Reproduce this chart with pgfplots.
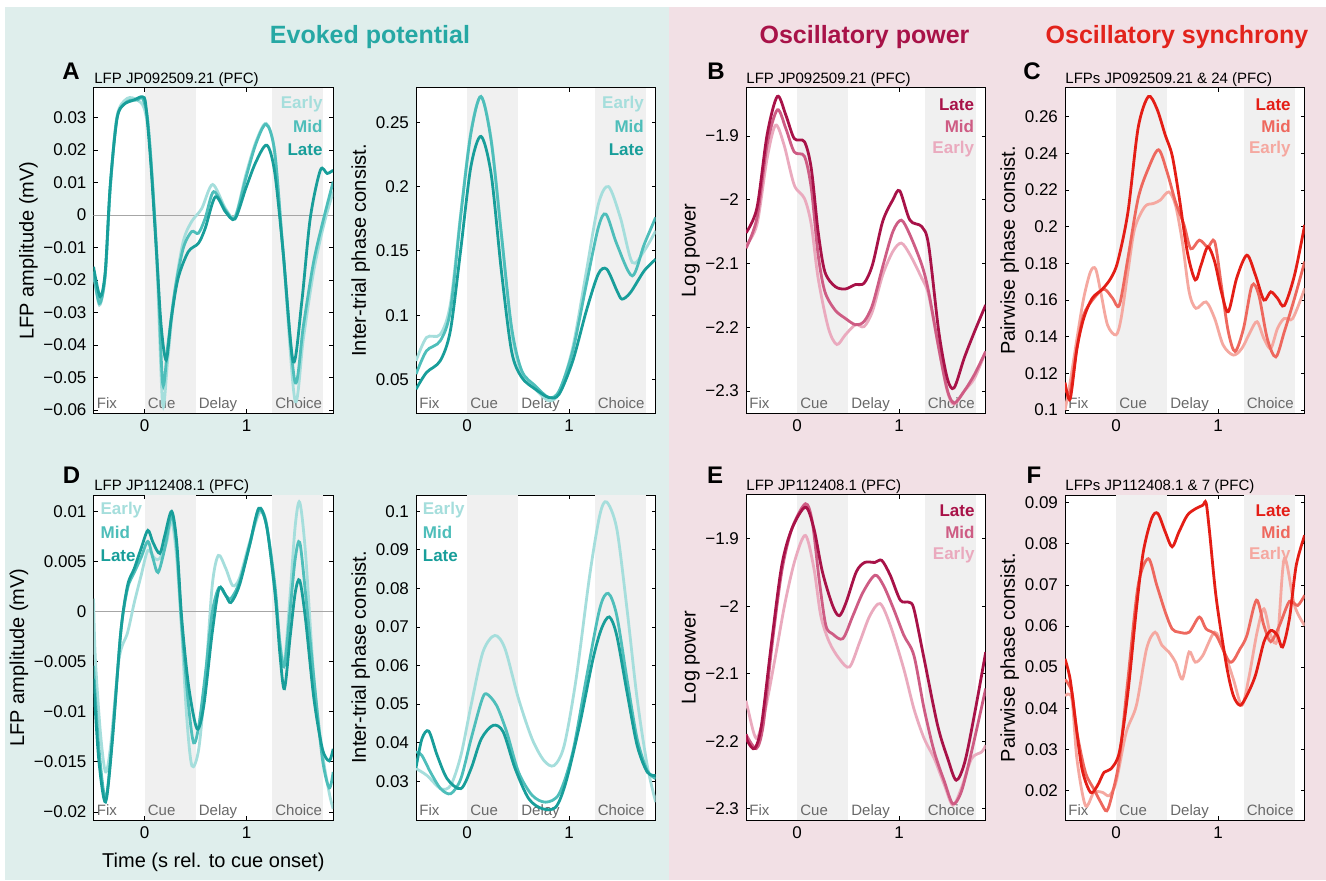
\documentclass[border=0pt]{standalone}
\usepackage{fontspec}
\setmainfont{Liberation Sans}
\usepackage{pgfplots}
\pgfplotsset{compat=1.18}

\definecolor{bgteal}{RGB}{223,238,236}
\definecolor{bgpink}{RGB}{242,224,229}
\definecolor{shadegray}{RGB}{240,240,240}
\definecolor{periodgray}{RGB}{105,105,105}
\definecolor{tealL}{RGB}{24,158,154}
\definecolor{tealM}{RGB}{78,190,186}
\definecolor{tealE}{RGB}{165,222,220}
\definecolor{powL}{RGB}{168,18,72}
\definecolor{powM}{RGB}{206,92,132}
\definecolor{powE}{RGB}{234,170,190}
\definecolor{synL}{RGB}{228,30,22}
\definecolor{synM}{RGB}{238,104,94}
\definecolor{synE}{RGB}{245,168,160}
\definecolor{titteal}{RGB}{38,168,164}
\definecolor{titpow}{RGB}{168,18,72}
\definecolor{titsyn}{RGB}{226,35,28}

\pgfplotsset{
  panel/.style={
    scale only axis, width=117.5pt, height=162.5pt, anchor=south west,
    xmin=-0.5, xmax=1.85, xtick={0,1}, xticklabels={0,1},
    scaled y ticks=false,
    tick align=inside, major tick length=2pt,
    axis background/.style={fill=white},
    axis line style={line width=0.5pt},
    every tick/.style={black, line width=0.4pt},
    tick label style={font=\fontsize{8.5}{10}\selectfont},
    label style={font=\fontsize{10}{12}\selectfont},
    ylabel shift=-4pt,
    every axis plot/.append style={line width=1.4pt, smooth},
  },
}
\newcommand{\periods}{%
  \fill[shadegray] ({axis cs:0,0}|-{rel axis cs:0,0}) rectangle ({axis cs:0.5,0}|-{rel axis cs:0,1});
  \fill[shadegray] ({axis cs:1.25,0}|-{rel axis cs:0,0}) rectangle ({axis cs:1.75,0}|-{rel axis cs:0,1});
  \node[anchor=base west, text=periodgray, font=\fontsize{7.5}{9}\selectfont, inner sep=1.5pt, yshift=2.5pt] at ({axis cs:-0.5,0}|-{rel axis cs:0,0}) {Fix};
  \node[anchor=base west, text=periodgray, font=\fontsize{7.5}{9}\selectfont, inner sep=1.5pt, yshift=2.5pt] at ({axis cs:0,0}|-{rel axis cs:0,0}) {Cue};
  \node[anchor=base west, text=periodgray, font=\fontsize{7.5}{9}\selectfont, inner sep=1.5pt, yshift=2.5pt] at ({axis cs:0.5,0}|-{rel axis cs:0,0}) {Delay};
  \node[anchor=base west, text=periodgray, font=\fontsize{7.5}{9}\selectfont, inner sep=1.5pt, yshift=2.5pt] at ({axis cs:1.25,0}|-{rel axis cs:0,0}) {Choice};
}
\newcommand{\zeroline}{%
  \draw[gray!70, line width=0.4pt] ({rel axis cs:0,0}|-{axis cs:0,0}) -- ({rel axis cs:1,0}|-{axis cs:0,0});
}
\tikzset{leg/.style={font=\fontsize{8.5}{10}\bfseries, inner sep=0pt}}

\begin{document}
\begin{tikzpicture}
\useasboundingbox (0,0) rectangle (663pt,440pt);
\fill[bgteal] (2.5pt,0) rectangle (334.5pt,436.5pt);
\fill[bgpink] (334.5pt,0) rectangle (663pt,436.5pt);

% ---------- A left
\begin{axis}[panel, at={(46.75pt,233.5pt)}, ymin=-0.0609, ymax=0.0391,
  ytick={-0.06,-0.05,-0.04,-0.03,-0.02,-0.01,0,0.01,0.02,0.03},
  yticklabels={−0.06,−0.05,−0.04,−0.03,−0.02,−0.01,0,0.01,0.02,0.03},
  ylabel={LFP amplitude (mV)}]
\periods
\zeroline
\addplot[tealE] coordinates {(-0.5,-0.0174)(-0.442,-0.0277)(-0.385,-0.0185)(-0.336,0.0082)(-0.269,0.0305)(-0.169,0.0359)(-0.07,0.0354)(-0.003,0.0328)(0.047,0.0236)(0.096,0.001)(0.13,-0.0215)(0.179,-0.0585)(0.229,-0.0441)(0.296,-0.0236)(0.379,-0.0082)(0.462,-0.002)(0.561,0.002)(0.668,0.0094)(0.794,0.002)(0.887,-0.0005)(0.993,0.0123)(1.093,0.0226)(1.193,0.0282)(1.276,0.0195)(1.359,-0.0113)(1.475,-0.057)(1.558,-0.0379)(1.658,-0.0174)(1.757,-0.0031)(1.85,0.0072)};
\addplot[tealM] coordinates {(-0.5,-0.0174)(-0.442,-0.0272)(-0.385,-0.0185)(-0.336,0.0082)(-0.269,0.030)(-0.169,0.0349)(-0.07,0.0354)(-0.02,0.0359)(0.03,0.0297)(0.08,0.0092)(0.13,-0.0174)(0.179,-0.052)(0.229,-0.040)(0.296,-0.0236)(0.379,-0.0103)(0.462,-0.0051)(0.528,-0.0056)(0.595,-0.001)(0.678,0.0072)(0.794,0.0015)(0.887,-0.0008)(0.993,0.0113)(1.093,0.022)(1.193,0.0279)(1.276,0.0195)(1.359,-0.0113)(1.475,-0.0513)(1.558,-0.034)(1.658,-0.0144)(1.757,-0.001)(1.85,0.0103)};
\addplot[tealL] coordinates {(-0.5,-0.0159)(-0.435,-0.0251)(-0.385,-0.0174)(-0.336,0.0092)(-0.269,0.0297)(-0.203,0.034)(-0.103,0.0354)(-0.02,0.0364)(0.013,0.0338)(0.063,0.0154)(0.113,-0.0092)(0.163,-0.034)(0.213,-0.0446)(0.262,-0.032)(0.329,-0.0195)(0.429,-0.0113)(0.528,-0.0087)(0.595,-0.0041)(0.694,0.0056)(0.794,0.001)(0.887,-0.0012)(0.993,0.0082)(1.093,0.0164)(1.199,0.0215)(1.276,0.0133)(1.359,-0.0113)(1.458,-0.0451)(1.542,-0.0267)(1.625,-0.001)(1.724,0.0138)(1.791,0.0128)(1.85,0.0138)};
\node[leg, anchor=east, text=tealE] at (rel axis cs:0.957,0.95) {Early};
\node[leg, anchor=east, text=tealM] at (rel axis cs:0.957,0.881) {Mid};
\node[leg, anchor=east, text=tealL] at (rel axis cs:0.957,0.811) {Late};
\end{axis}

% ---------- A right
\begin{axis}[panel, at={(208pt,233.5pt)}, ymin=0.024, ymax=0.2766,
  ytick={0.05,0.1,0.15,0.2,0.25}, yticklabels={0.05,0.1,0.15,0.2,0.25},
  ylabel={Inter-trial phase consist.}]
\periods
\addplot[tealE] coordinates {(-0.5,0.0645)(-0.397,0.0827)(-0.263,0.085)(-0.163,0.1086)(-0.063,0.178)(0.037,0.242)(0.137,0.270)(0.237,0.2368)(0.337,0.163)(0.437,0.0879)(0.537,0.0542)(0.67,0.0425)(0.803,0.0335)(0.903,0.040)(1.037,0.075)(1.17,0.134)(1.287,0.186)(1.387,0.2)(1.503,0.176)(1.62,0.141)(1.737,0.15)(1.85,0.1656)};
\addplot[tealM] coordinates {(-0.5,0.0542)(-0.397,0.0723)(-0.263,0.080)(-0.163,0.1034)(-0.063,0.176)(0.037,0.2407)(0.137,0.270)(0.237,0.2355)(0.337,0.163)(0.437,0.0905)(0.537,0.0568)(0.67,0.0451)(0.803,0.036)(0.903,0.0412)(1.037,0.0723)(1.17,0.124)(1.287,0.168)(1.363,0.1785)(1.47,0.155)(1.62,0.1306)(1.737,0.155)(1.85,0.176)};
\addplot[tealL] coordinates {(-0.5,0.0425)(-0.397,0.0555)(-0.263,0.0645)(-0.163,0.088)(-0.063,0.150)(0.037,0.215)(0.137,0.239)(0.237,0.2096)(0.337,0.1345)(0.437,0.072)(0.537,0.0516)(0.67,0.0425)(0.803,0.036)(0.903,0.0386)(1.037,0.0645)(1.17,0.1034)(1.287,0.132)(1.37,0.1358)(1.47,0.119)(1.52,0.1125)(1.603,0.1177)(1.737,0.1345)(1.85,0.1435)};
\node[leg, anchor=east, text=tealE] at (rel axis cs:0.952,0.95) {Early};
\node[leg, anchor=east, text=tealM] at (rel axis cs:0.952,0.881) {Mid};
\node[leg, anchor=east, text=tealL] at (rel axis cs:0.952,0.811) {Late};
\end{axis}

% ---------- B
\begin{axis}[panel, at={(373pt,233.5pt)}, ymin=-2.3345, ymax=-1.8247,
  ytick={-2.3,-2.2,-2.1,-2,-1.9}, yticklabels={−2.3,−2.2,−2.1,−2,−1.9},
  ylabel={Log power}]
\periods
\addplot[powE] coordinates {(-0.5,-2.071)(-0.393,-2.039)(-0.293,-1.935)(-0.21,-1.883)(-0.127,-1.914)(-0.027,-1.977)(0.073,-1.998)(0.14,-2.039)(0.207,-2.123)(0.307,-2.201)(0.39,-2.227)(0.473,-2.212)(0.573,-2.196)(0.657,-2.199)(0.74,-2.175)(0.84,-2.118)(0.94,-2.081)(1.023,-2.068)(1.107,-2.086)(1.223,-2.123)(1.29,-2.149)(1.39,-2.233)(1.473,-2.3)(1.54,-2.321)(1.64,-2.3)(1.74,-2.28)(1.85,-2.238)};
\addplot[powM] coordinates {(-0.5,-2.076)(-0.393,-2.029)(-0.293,-1.914)(-0.193,-1.859)(-0.11,-1.888)(-0.027,-1.925)(0.073,-1.932)(0.14,-1.982)(0.207,-2.086)(0.273,-2.144)(0.373,-2.173)(0.473,-2.186)(0.573,-2.196)(0.657,-2.191)(0.74,-2.165)(0.84,-2.105)(0.94,-2.05)(1.023,-2.032)(1.107,-2.055)(1.223,-2.102)(1.29,-2.144)(1.39,-2.233)(1.473,-2.298)(1.54,-2.319)(1.64,-2.3)(1.74,-2.274)(1.85,-2.238)};
\addplot[powL] coordinates {(-0.5,-2.052)(-0.393,-2.013)(-0.293,-1.898)(-0.193,-1.838)(-0.11,-1.867)(-0.027,-1.904)(0.073,-1.909)(0.14,-1.951)(0.207,-2.05)(0.273,-2.113)(0.373,-2.136)(0.473,-2.14)(0.573,-2.133)(0.657,-2.131)(0.74,-2.102)(0.84,-2.034)(0.94,-2.0)(1.007,-1.986)(1.107,-2.032)(1.223,-2.042)(1.29,-2.071)(1.39,-2.207)(1.473,-2.28)(1.54,-2.295)(1.64,-2.248)(1.74,-2.207)(1.85,-2.165)};
\node[leg, anchor=east, text=powL] at (rel axis cs:0.953,0.95) {Late};
\node[leg, anchor=east, text=powM] at (rel axis cs:0.953,0.881) {Mid};
\node[leg, anchor=east, text=powE] at (rel axis cs:0.953,0.811) {Early};
\end{axis}

% ---------- C
\begin{axis}[panel, at={(532.5pt,233.5pt)}, ymin=0.0984, ymax=0.2757,
  ytick={0.1,0.12,0.14,0.16,0.18,0.2,0.22,0.24,0.26},
  yticklabels={0.1,0.12,0.14,0.16,0.18,0.2,0.22,0.24,0.26},
  ylabel={Pairwise phase consist.}]
\periods
\addplot[synE] coordinates {(-0.5,0.10)(-0.45,0.115)(-0.383,0.139)(-0.317,0.161)(-0.25,0.1755)(-0.2,0.177)(-0.15,0.1645)(-0.083,0.1464)(0.0,0.141)(0.05,0.15)(0.117,0.1755)(0.183,0.199)(0.283,0.211)(0.367,0.2127)(0.433,0.2145)(0.517,0.219)(0.583,0.2118)(0.65,0.1918)(0.717,0.1645)(0.783,0.1555)(0.883,0.159)(0.967,0.15)(1.05,0.1355)(1.15,0.13)(1.233,0.1336)(1.317,0.1427)(1.383,0.1482)(1.45,0.139)(1.517,0.1336)(1.583,0.1445)(1.65,0.15)(1.733,0.15)(1.85,0.1664)};
\addplot[synM] coordinates {(-0.5,0.112)(-0.45,0.11)(-0.383,0.134)(-0.317,0.152)(-0.217,0.161)(-0.117,0.166)(-0.033,0.161)(0.033,0.1573)(0.117,0.183)(0.217,0.2155)(0.317,0.2318)(0.417,0.242)(0.5,0.23)(0.583,0.2136)(0.667,0.201)(0.733,0.188)(0.817,0.1927)(0.9,0.189)(0.967,0.192)(1.033,0.168)(1.1,0.143)(1.167,0.132)(1.25,0.1445)(1.333,0.168)(1.4,0.1627)(1.483,0.139)(1.567,0.129)(1.65,0.1427)(1.75,0.161)(1.85,0.181)};
\addplot[synL] coordinates {(-0.5,0.115)(-0.45,0.106)(-0.383,0.1336)(-0.317,0.15)(-0.233,0.161)(-0.133,0.166)(-0.05,0.172)(0.017,0.181)(0.117,0.208)(0.217,0.254)(0.317,0.271)(0.4,0.2645)(0.483,0.25)(0.55,0.239)(0.617,0.217)(0.7,0.186)(0.777,0.171)(0.833,0.179)(0.9,0.189)(0.967,0.181)(1.033,0.1645)(1.1,0.1536)(1.183,0.172)(1.283,0.1845)(1.367,0.1736)(1.45,0.16)(1.517,0.1645)(1.583,0.161)(1.65,0.157)(1.75,0.1736)(1.85,0.201)};
\node[leg, anchor=east, text=synL] at (rel axis cs:0.943,0.95) {Late};
\node[leg, anchor=east, text=synM] at (rel axis cs:0.943,0.881) {Mid};
\node[leg, anchor=east, text=synE] at (rel axis cs:0.943,0.811) {Early};
\end{axis}

% ---------- D left
\begin{axis}[panel, at={(46.75pt,30pt)}, ymin=-0.0208, ymax=0.01163,
  ytick={-0.02,-0.015,-0.01,-0.005,0,0.005,0.01},
  yticklabels={−0.02,−0.015,−0.01,−0.005,0,0.005,0.01},
  ylabel={LFP amplitude (mV)}, xlabel={Time (s rel. to cue onset)}]
\periods
\zeroline
\addplot[tealE] coordinates {(-0.5,0.0013)(-0.482,-0.0047)(-0.432,-0.0121)(-0.382,-0.016)(-0.332,-0.0134)(-0.249,-0.0047)(-0.166,-0.0021)(-0.1,0.0009)(-0.033,0.0036)(0.033,0.0061)(0.1,0.0053)(0.15,0.0053)(0.216,0.0069)(0.266,0.0091)(0.316,0.0053)(0.365,-0.0021)(0.415,-0.0107)(0.465,-0.0154)(0.532,-0.0137)(0.598,-0.0067)(0.664,0.0026)(0.724,0.0056)(0.797,0.0043)(0.864,0.0026)(0.93,0.0033)(1.03,0.0069)(1.13,0.0099)(1.196,0.0088)(1.279,0.0019)(1.329,-0.0031)(1.372,-0.0051)(1.429,0.0019)(1.478,0.0086)(1.522,0.0109)(1.578,0.0059)(1.661,-0.0067)(1.744,-0.0141)(1.811,-0.0181)(1.85,-0.0197)};
\addplot[tealM] coordinates {(-0.5,-0.0054)(-0.449,-0.0134)(-0.382,-0.0187)(-0.316,-0.0127)(-0.233,-0.0021)(-0.166,0.0023)(-0.1,0.0039)(-0.033,0.0054)(0.033,0.007)(0.083,0.0053)(0.133,0.0039)(0.199,0.0063)(0.266,0.0096)(0.316,0.0063)(0.365,-0.0014)(0.432,-0.0094)(0.482,-0.0131)(0.532,-0.0114)(0.598,-0.0061)(0.664,-0.0001)(0.731,0.0024)(0.797,0.0016)(0.847,0.0013)(0.93,0.0029)(1.03,0.0066)(1.12,0.0101)(1.196,0.0086)(1.279,0.0026)(1.329,-0.0034)(1.372,-0.0054)(1.429,0.0003)(1.478,0.0053)(1.522,0.0069)(1.578,0.0019)(1.661,-0.0067)(1.744,-0.0147)(1.811,-0.0176)(1.85,-0.016)};
\addplot[tealL] coordinates {(-0.5,-0.0067)(-0.449,-0.0147)(-0.382,-0.019)(-0.316,-0.013)(-0.233,-0.0021)(-0.166,0.0026)(-0.1,0.0043)(-0.033,0.0063)(0.033,0.0081)(0.083,0.0069)(0.15,0.0058)(0.199,0.0076)(0.266,0.01)(0.316,0.0069)(0.365,-0.0007)(0.432,-0.0074)(0.515,-0.0117)(0.581,-0.0094)(0.664,-0.0021)(0.731,0.0023)(0.797,0.0016)(0.847,0.0009)(0.93,0.0026)(1.03,0.0066)(1.12,0.0103)(1.196,0.0086)(1.279,0.0019)(1.329,-0.0044)(1.372,-0.0077)(1.429,-0.0024)(1.478,0.0019)(1.522,0.0031)(1.578,-0.0007)(1.661,-0.0087)(1.744,-0.0137)(1.811,-0.0149)(1.85,-0.0137)};
\node[leg, anchor=west, text=tealE] at (rel axis cs:0.028,0.953) {Early};
\node[leg, anchor=west, text=tealM] at (rel axis cs:0.028,0.884) {Mid};
\node[leg, anchor=west, text=tealL] at (rel axis cs:0.028,0.814) {Late};
\end{axis}

% ---------- D right
\begin{axis}[panel, at={(208pt,30pt)}, ymin=0.01997, ymax=0.1042,
  ytick={0.03,0.04,0.05,0.06,0.07,0.08,0.09,0.1},
  yticklabels={0.03,0.04,0.05,0.06,0.07,0.08,0.09,0.1},
  ylabel={Inter-trial phase consist.}]
\periods
\addplot[tealE] coordinates {(-0.5,0.0333)(-0.392,0.0315)(-0.259,0.0281)(-0.159,0.029)(-0.06,0.0367)(0.04,0.0497)(0.156,0.0635)(0.272,0.0678)(0.372,0.0644)(0.505,0.0514)(0.638,0.041)(0.754,0.0354)(0.854,0.0341)(0.953,0.0393)(1.07,0.0566)(1.203,0.0834)(1.302,0.099)(1.369,0.1024)(1.468,0.0955)(1.568,0.0748)(1.668,0.0514)(1.767,0.0341)(1.85,0.0246)};
\addplot[tealM] coordinates {(-0.5,0.0376)(-0.442,0.0367)(-0.359,0.0324)(-0.259,0.0281)(-0.159,0.0268)(-0.06,0.0307)(0.04,0.041)(0.14,0.0506)(0.189,0.0527)(0.289,0.0497)(0.389,0.0428)(0.505,0.0324)(0.638,0.0264)(0.771,0.0246)(0.904,0.0268)(1.037,0.0376)(1.169,0.0566)(1.302,0.0748)(1.385,0.0787)(1.468,0.073)(1.568,0.0566)(1.668,0.041)(1.767,0.0328)(1.85,0.0307)};
\addplot[tealL] coordinates {(-0.5,0.0335)(-0.442,0.041)(-0.375,0.043)(-0.292,0.0367)(-0.193,0.0306)(-0.06,0.0281)(0.04,0.0333)(0.14,0.041)(0.256,0.0445)(0.355,0.0428)(0.472,0.0333)(0.605,0.0255)(0.738,0.0229)(0.87,0.0233)(0.97,0.0298)(1.103,0.0445)(1.236,0.0618)(1.319,0.0696)(1.395,0.0726)(1.468,0.0678)(1.568,0.0532)(1.668,0.0393)(1.767,0.0324)(1.85,0.0315)};
\node[leg, anchor=west, text=tealE] at (rel axis cs:0.027,0.953) {Early};
\node[leg, anchor=west, text=tealM] at (rel axis cs:0.027,0.884) {Mid};
\node[leg, anchor=west, text=tealL] at (rel axis cs:0.027,0.814) {Late};
\end{axis}

% ---------- E
\begin{axis}[panel, at={(373pt,30pt)}, ymin=-2.317, ymax=-1.835,
  ytick={-2.3,-2.2,-2.1,-2,-1.9}, yticklabels={−2.3,−2.2,−2.1,−2,−1.9},
  ylabel={Log power}]
\periods
\addplot[powE] coordinates {(-0.5,-2.14)(-0.482,-2.152)(-0.399,-2.196)(-0.316,-2.157)(-0.216,-2.078)(-0.116,-1.994)(-0.017,-1.93)(0.083,-1.895)(0.166,-1.944)(0.233,-2.014)(0.316,-2.053)(0.415,-2.078)(0.515,-2.09)(0.615,-2.053)(0.714,-2.014)(0.814,-1.996)(0.914,-2.028)(1.047,-2.093)(1.146,-2.152)(1.246,-2.196)(1.346,-2.226)(1.445,-2.265)(1.528,-2.295)(1.611,-2.27)(1.711,-2.226)(1.811,-2.216)(1.85,-2.206)};
\addplot[powM] coordinates {(-0.5,-2.19)(-0.399,-2.211)(-0.332,-2.177)(-0.249,-2.063)(-0.15,-1.949)(-0.05,-1.885)(0.083,-1.848)(0.15,-1.875)(0.216,-1.959)(0.282,-2.028)(0.349,-2.041)(0.449,-2.048)(0.548,-2.014)(0.648,-1.979)(0.764,-1.954)(0.847,-1.969)(0.947,-2.004)(1.047,-2.043)(1.146,-2.073)(1.246,-2.152)(1.346,-2.216)(1.445,-2.26)(1.528,-2.293)(1.611,-2.275)(1.711,-2.216)(1.85,-2.122)};
\addplot[powL] coordinates {(-0.5,-2.19)(-0.482,-2.201)(-0.415,-2.211)(-0.349,-2.177)(-0.249,-2.053)(-0.15,-1.94)(-0.05,-1.885)(0.083,-1.853)(0.166,-1.885)(0.249,-1.949)(0.349,-1.999)(0.415,-2.014)(0.482,-1.994)(0.581,-1.949)(0.664,-1.935)(0.764,-1.935)(0.831,-1.932)(0.914,-1.954)(1.013,-1.991)(1.096,-1.994)(1.146,-2.004)(1.246,-2.078)(1.379,-2.177)(1.478,-2.226)(1.561,-2.258)(1.645,-2.231)(1.744,-2.157)(1.85,-2.068)};
\node[leg, anchor=east, text=powL] at (rel axis cs:0.955,0.953) {Late};
\node[leg, anchor=east, text=powM] at (rel axis cs:0.955,0.884) {Mid};
\node[leg, anchor=east, text=powE] at (rel axis cs:0.955,0.814) {Early};
\end{axis}

% ---------- F
\begin{axis}[panel, at={(532.5pt,30pt)}, ymin=0.01277, ymax=0.0919,
  ytick={0.02,0.03,0.04,0.05,0.06,0.07,0.08,0.09},
  yticklabels={0.02,0.03,0.04,0.05,0.06,0.07,0.08,0.09},
  ylabel={Pairwise phase consist.}]
\periods
\addplot[synE] coordinates {(-0.5,0.043)(-0.433,0.0423)(-0.383,0.0276)(-0.3,0.0163)(-0.217,0.0195)(-0.133,0.0195)(-0.067,0.0187)(0.0,0.022)(0.1,0.0341)(0.2,0.0407)(0.3,0.0545)(0.383,0.0585)(0.45,0.0553)(0.517,0.0537)(0.583,0.0512)(0.65,0.0471)(0.717,0.0537)(0.777,0.0512)(0.85,0.0528)(0.967,0.0585)(1.05,0.0545)(1.15,0.0471)(1.233,0.0407)(1.3,0.0471)(1.383,0.0585)(1.45,0.0642)(1.517,0.0577)(1.583,0.0569)(1.65,0.0764)(1.75,0.0650)(1.85,0.0601)};
\addplot[synM] coordinates {(-0.5,0.047)(-0.433,0.0439)(-0.383,0.0341)(-0.3,0.0244)(-0.217,0.0203)(-0.15,0.0171)(-0.09,0.015)(-0.033,0.0195)(0.033,0.0276)(0.117,0.0471)(0.217,0.0699)(0.317,0.0764)(0.4,0.0699)(0.483,0.0634)(0.55,0.0593)(0.617,0.0585)(0.717,0.0585)(0.817,0.0622)(0.883,0.0593)(0.983,0.0577)(1.117,0.0512)(1.217,0.0545)(1.283,0.0577)(1.377,0.0663)(1.45,0.0601)(1.517,0.0562)(1.6,0.060)(1.7,0.066)(1.78,0.065)(1.85,0.0675)};
\addplot[synL] coordinates {(-0.5,0.052)(-0.45,0.0471)(-0.4,0.0374)(-0.333,0.0252)(-0.25,0.0195)(-0.183,0.0211)(-0.117,0.0244)(-0.05,0.0252)(0.033,0.0293)(0.117,0.0439)(0.2,0.0642)(0.267,0.078)(0.35,0.0862)(0.41,0.0874)(0.483,0.0829)(0.55,0.0793)(0.617,0.0829)(0.7,0.087)(0.783,0.0886)(0.85,0.0894)(0.883,0.09)(0.917,0.0829)(0.983,0.0667)(1.083,0.0504)(1.15,0.0431)(1.217,0.0407)(1.283,0.0431)(1.367,0.048)(1.45,0.0561)(1.517,0.0589)(1.583,0.0577)(1.633,0.0549)(1.7,0.0618)(1.767,0.0748)(1.85,0.0821)};
\node[leg, anchor=east, text=synL] at (rel axis cs:0.943,0.953) {Late};
\node[leg, anchor=east, text=synM] at (rel axis cs:0.943,0.884) {Mid};
\node[leg, anchor=east, text=synE] at (rel axis cs:0.943,0.814) {Early};
\end{axis}

% ---------- titles, letters, subtitles
\node[font=\fontsize{12.5}{15}\bfseries, text=titteal] at (185pt,421.5pt) {Evoked potential};
\node[font=\fontsize{12.5}{15}\bfseries, text=titpow] at (432.25pt,421.5pt) {Oscillatory power};
\node[font=\fontsize{12.5}{15}\bfseries, text=titsyn] at (588.5pt,421.5pt) {Oscillatory synchrony};

\node[font=\fontsize{12}{14}\bfseries, anchor=base] at (35.5pt,400pt) {A};
\node[font=\fontsize{12}{14}\bfseries, anchor=base] at (358pt,400pt) {B};
\node[font=\fontsize{12}{14}\bfseries, anchor=base] at (516pt,400pt) {C};
\node[font=\fontsize{12}{14}\bfseries, anchor=base] at (35.75pt,198.3pt) {D};
\node[font=\fontsize{12}{14}\bfseries, anchor=base] at (357.5pt,198.3pt) {E};
\node[font=\fontsize{12}{14}\bfseries, anchor=base] at (517pt,198.3pt) {F};

\node[font=\fontsize{7.5}{9}\selectfont, anchor=base west, inner sep=0pt] at (47pt,398pt) {LFP JP092509.21 (PFC)};
\node[font=\fontsize{7.5}{9}\selectfont, anchor=base west, inner sep=0pt] at (373pt,398pt) {LFP JP092509.21 (PFC)};
\node[font=\fontsize{7.5}{9}\selectfont, anchor=base west, inner sep=0pt] at (532.5pt,398pt) {LFPs JP092509.21 \& 24 (PFC)};
\node[font=\fontsize{7.5}{9}\selectfont, anchor=base west, inner sep=0pt] at (47pt,195pt) {LFP JP112408.1 (PFC)};
\node[font=\fontsize{7.5}{9}\selectfont, anchor=base west, inner sep=0pt] at (373pt,195pt) {LFP JP112408.1 (PFC)};
\node[font=\fontsize{7.5}{9}\selectfont, anchor=base west, inner sep=0pt] at (532.5pt,195pt) {LFPs JP112408.1 \& 7 (PFC)};
\end{tikzpicture}
\end{document}
